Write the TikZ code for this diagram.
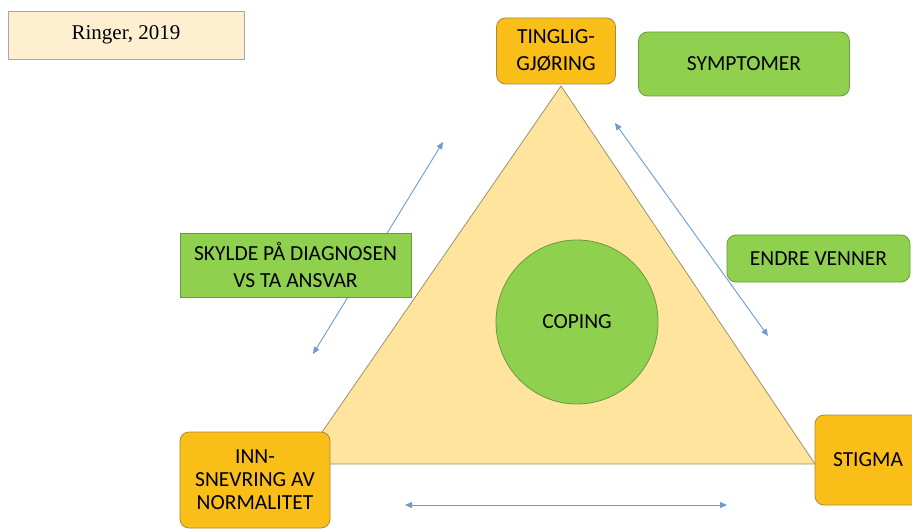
\documentclass[tikz,border=0pt]{standalone}
\usepackage{fontspec}
\setmainfont{Carlito}
\newfontfamily\timesfont{Liberation Serif}
\usetikzlibrary{arrows.meta,shapes.geometric}

\definecolor{creamfill}{HTML}{FDEFCF}
\definecolor{creamline}{HTML}{A6A6A6}
\definecolor{orangefill}{HTML}{FABE18}
\definecolor{orangeline}{HTML}{A88A3C}
\definecolor{greenfill}{HTML}{8FD14F}
\definecolor{greenline}{HTML}{6A9A3E}
\definecolor{trifill}{HTML}{FEE49C}
\definecolor{triline}{HTML}{9C9270}
\definecolor{arrowblue}{HTML}{6C9BD2}

\tikzset{
  x=1pt, y=-1pt,
  box/.style={draw, line width=0.8pt, rounded corners=9pt, align=center,
    inner sep=0pt, font=\fontsize{21.5}{27}\selectfont, text=black},
  orangebox/.style={box, fill=orangefill, draw=orangeline},
  greenbox/.style={box, fill=greenfill, draw=greenline},
  twoway/.style={draw=arrowblue, line width=0.9pt,
    {Triangle[length=7pt,width=6pt]}-{Triangle[length=7pt,width=6pt]}},
}

\begin{document}
\begin{tikzpicture}
\useasboundingbox (0,0) rectangle (912,529);

% central triangle
\coordinate (apex) at (561,86);
\coordinate (left) at (300,464);
\coordinate (right) at (815,464);
\filldraw[fill=trifill, draw=triline, line width=0.8pt] (apex) -- (left) -- (right) -- cycle;

% two-way arrows along the sides (drawn first so the label boxes cover them)
\coordinate (la) at (313,354);
\coordinate (lb) at (443,142);
\coordinate (ra) at (615,123);
\coordinate (rb) at (768,336);
\coordinate (ba) at (405,505);
\coordinate (bb) at (727,505);
\draw[twoway] (la) -- (lb);
\draw[twoway] (ra) -- (rb);
\draw[twoway] (ba) -- (bb);

% citation box
\node[draw=creamline, fill=creamfill, line width=0.8pt, minimum width=236pt,
  minimum height=48pt, inner sep=0pt, font=\timesfont\fontsize{21}{24}\selectfont]
  (cite) at (126,35) {Ringer, 2019};

% corner boxes
\node[orangebox, minimum width=119pt, minimum height=66pt] (ting) at (556,51)
  {TINGLIG-\\GJØRING};
\node[orangebox, minimum width=150pt, minimum height=96pt,
  font=\fontsize{21.5}{23}\selectfont] (inn) at (255,480)
  {INN-\\SNEVRING AV\\NORMALITET};
\node[orangebox, minimum width=120pt, minimum height=90pt, text width=84pt,
  align=left] (stigma) at (875,460) {STIGMA};

% side labels
\node[greenbox, minimum width=211pt, minimum height=64pt] (sympt) at (744,64)
  {SYMPTOMER};
\node[greenbox, minimum width=231pt, minimum height=64pt, rounded corners=0pt]
  (skylde) at (295.5,265) {SKYLDE PÅ DIAGNOSEN\\VS TA ANSVAR};
\node[greenbox, minimum width=183pt, minimum height=47pt] (endre) at (818.5,258.5)
  {ENDRE VENNER};

% centre
\node[ellipse, draw=greenline, fill=greenfill, line width=0.8pt,
  minimum width=162pt, minimum height=164pt, inner sep=0pt,
  font=\fontsize{21.5}{24}\selectfont] (coping) at (577,322) {COPING};
\end{tikzpicture}
\end{document}
